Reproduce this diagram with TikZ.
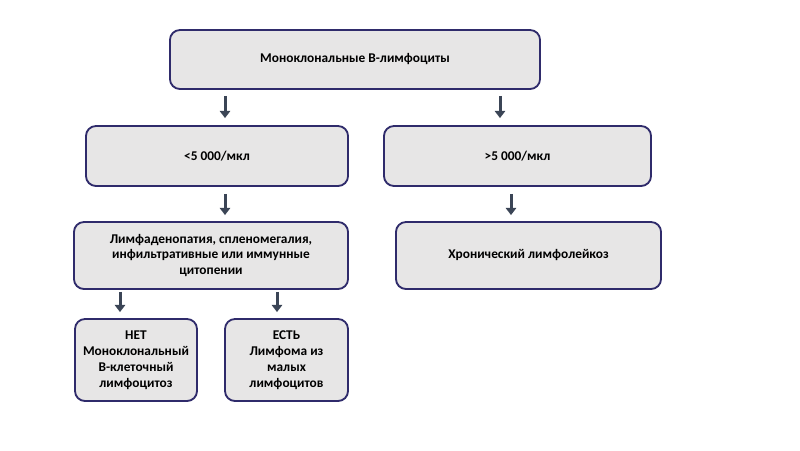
\documentclass[tikz,border=0pt]{standalone}
\usepackage{fontspec}
\setmainfont{Carlito}
\usetikzlibrary{positioning,arrows.meta}
\definecolor{boxfill}{HTML}{E7E6E6}
\definecolor{boxline}{HTML}{2F2B6B}
\definecolor{arrowcol}{HTML}{3B4556}
\begin{document}
\begin{tikzpicture}[x=0.025cm, y=-0.025cm,
    box/.style={rectangle, draw=boxline, fill=boxfill, rounded corners=0.25cm, line width=1.3pt, align=center, inner sep=0pt, font=\fontsize{9.5}{11.3}\selectfont\bfseries},
    arr/.style={-{Triangle[width=0.26cm, length=0.18cm]}, line width=0.075cm, arrowcol}]
        \def\rowh{1.5cm}
        \def\midh{1.675cm}
        \def\lowh{2.05cm}

        \useasboundingbox (0, 0) rectangle (800, 450);

        \node[box, minimum width=9.25cm, minimum height=1.475cm] (mono) at (355, 59.5) {Моноклональные В-лимфоциты};
        \node[box, minimum width=6.55cm, minimum height=\rowh] (lt) at (217, 156) {<5 000/мкл};
        \node[box, minimum width=6.675cm, minimum height=\rowh] (gt) at (517.5, 156) {>5 000/мкл};
        \node[box, minimum width=6.85cm, minimum height=\midh] (sympt) at (211, 255.5) {Лимфаденопатия, спленомегалия,\\инфильтративные или иммунные\\цитопении};
        \node[box, minimum width=6.625cm, minimum height=\midh] (cll) at (528.5, 255.5) {Хронический лимфолейкоз};
        \node[box, minimum width=3.05cm, minimum height=\lowh] (no) at (136, 360) {НЕТ\\Моноклональный\\В-клеточный\\лимфоцитоз};
        \node[box, minimum width=3.075cm, minimum height=\lowh] (yes) at (286.5, 360) {ЕСТЬ\\Лимфома из\\малых\\лимфоцитов};

        \coordinate (c1) at (225, 0);
        \coordinate (c2) at (500, 0);
        \coordinate (c3) at (511, 0);
        \coordinate (c4) at (120, 0);
        \coordinate (c5) at (277, 0);

        \draw [arr] ([yshift=-0.15cm]mono.south -| c1) -- ([yshift=0.175cm]lt.north -| c1);
        \draw [arr] ([yshift=-0.15cm]mono.south -| c2) -- ([yshift=0.175cm]gt.north -| c2);
        \draw [arr] ([yshift=-0.175cm]lt.south -| c1) -- ([yshift=0.15cm]sympt.north -| c1);
        \draw [arr] ([yshift=-0.175cm]gt.south -| c3) -- ([yshift=0.15cm]cll.north -| c3);
        \draw [arr] ([yshift=-0.05cm]sympt.south -| c4) -- ([yshift=0.15cm]no.north -| c4);
        \draw [arr] ([yshift=-0.05cm]sympt.south -| c5) -- ([yshift=0.15cm]yes.north -| c5);
    \end{tikzpicture}
\end{document}
